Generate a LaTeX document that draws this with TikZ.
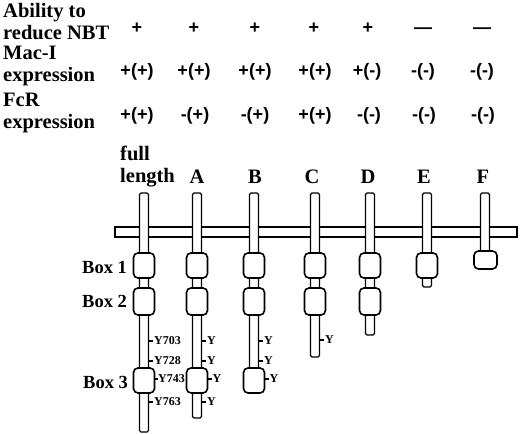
\documentclass[tikz,border=0pt]{standalone}
\usepackage{fontspec}
\setmainfont{Liberation Serif}
\setsansfont{Liberation Sans}
\usetikzlibrary{positioning}

\begin{document}
\begin{tikzpicture}[
  x=1pt, y=-1pt,
  txt/.style={font=\fontsize{20.5}{22}\selectfont\bfseries, inner sep=0pt, align=left},
  boxlbl/.style={font=\fontsize{18.5}{18.5}\selectfont\bfseries, inner sep=0pt, anchor=base west},
  sym/.style={font=\fontsize{18}{18}\selectfont\sffamily\bfseries, inner sep=0pt, anchor=base},
  tyr/.style={font=\fontsize{12}{12}\selectfont\bfseries, inner sep=0pt, anchor=west},
  memb/.style={draw, fill=white, line width=1.3pt},
  stem/.style={draw, fill=white, line width=1.4pt, rounded corners=1.5pt},
  dom/.style={draw, fill=white, line width=1.6pt, rounded corners=4.5pt},
  tick/.style={line width=1.2pt}
]
\useasboundingbox (0,0) rectangle (520,434);

% --- header: properties of each construct ---
\node[txt, anchor=north west] (nbt) at (3,3) {Ability to\\reduce NBT};
\node[txt, anchor=north west] (mac) at (3,46) {Mac-I\\expression};
\node[txt, anchor=north west] (fcr) at (3,93) {FcR\\expression};

\foreach \x/\s [count=\i] in {137/+, 194/+, 255/+, 314/+, 368/+, 423/—, 482/—}
  \node[sym] (nbt\i) at (\x,33.5) {\s};
\foreach \x/\s [count=\i] in {137/+(+), 194/+(+), 255/+(+), 315/+(+), 367/+(-), 423/-(-), 482/-(-)}
  \node[sym] (mac\i) at (\x,76) {\s};
\foreach \x/\s [count=\i] in {137/+(+), 195/-(+), 255/-(+), 315/+(+), 369/-(-), 424/-(-), 483/-(-)}
  \node[sym] (fcr\i) at (\x,120) {\s};

% --- construct names ---
\node[txt, anchor=north west] (full) at (120,146) {full\\length};
\foreach \x/\s in {197/A, 255/B, 312/C, 368/D, 424/E, 483/F}
  \node[txt, anchor=base] (name\s) at (\x,183) {\s};

% --- membrane and receptor chains ---
\draw[memb] (115,227) rectangle (517,237);
\foreach \x/\b in {144/432, 197/418, 254/390, 315/357, 370/335, 427/287, 485/258}
  \draw[stem] (\x-4.5,193) rectangle (\x+4.5,\b);

\foreach \x in {144,197,254,315,370,427}
  \draw[dom] (\x-10.5,253) rectangle (\x+10.5,278);
\foreach \x in {144,197,254,315,370}
  \draw[dom] (\x-10.5,288) rectangle (\x+10.5,315);
\foreach \x in {144,197,254}
  \draw[dom] (\x-10.5,368) rectangle (\x+10.5,393);
\draw[dom] (474,251) rectangle (497,269);

\node[boxlbl] (box1) at (82,273) {Box 1};
\node[boxlbl] (box2) at (82,307) {Box 2};
\node[boxlbl] (box3) at (83,388) {Box 3};

% --- tyrosines ---
\foreach \y/\n in {341/703, 361/728, 402/763}
  \draw[tick] (148.5,\y) -- (153,\y) node[tyr, right=0.5pt] (y\n) {Y\n};
\draw[tick] (154.5,379) -- (157.5,379) node[tyr, right=0pt] (y743) {Y743};

\foreach \x/\y [count=\i] in {197/341, 197/361, 197/402, 254/341, 254/361, 315/340}
  \draw[tick] (\x+4.5,\y) -- (\x+9,\y) node[tyr, right=0.5pt] (ys\i) {Y};
\foreach \x [count=\i] in {197,254}
  \draw[tick] (\x+10.5,379) -- (\x+14.5,379) node[tyr, right=0.5pt] (yb\i) {Y};
\end{tikzpicture}
\end{document}
